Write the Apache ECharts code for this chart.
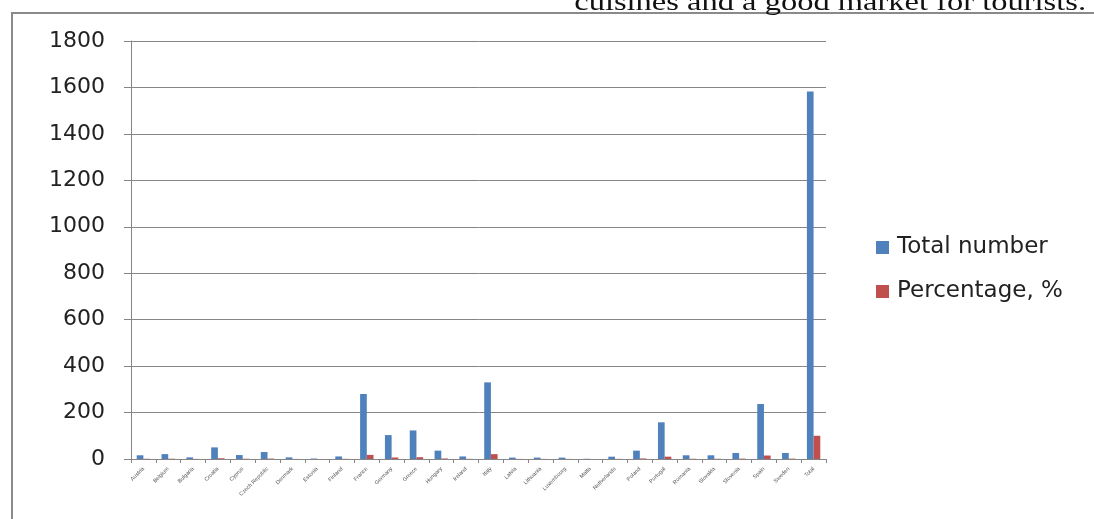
<!DOCTYPE html>
<html>
<head>
<meta charset="utf-8">
<script src="https://cdn.jsdelivr.net/npm/echarts@6/dist/echarts.min.js"></script>
<style>
  html, body { margin: 0; padding: 0; background: #fff; }
  #chart { width: 1094px; height: 519px; }
</style>
</head>
<body>
<div id="chart"></div>
<script>
// Countries of the EU and the overall total
const countries = [
  'Austria', 'Belgium', 'Bulgaria', 'Croatia', 'Cyprus', 'Czech Republic', 'Denmark',
  'Estonia', 'Finland', 'France', 'Germany', 'Greece', 'Hungary', 'Ireland', 'Italy',
  'Latvia', 'Lithuania', 'Luxembourg', 'Malta', 'Netherlands', 'Poland', 'Portugal',
  'Romania', 'Slovakia', 'Slovenia', 'Spain', 'Sweden', 'Total'
];

// Total number per country
const totalNumber = [
  16, 21, 7, 50, 17, 30, 7,
  2, 11, 280, 103, 123, 36, 11, 330,
  6, 6, 6, 1, 10, 36, 158,
  16, 16, 26, 237, 26, 1582
];

// Share of the total, in percent
const percentage = [
  1.0, 1.3, 0.4, 3.2, 1.1, 1.9, 0.4,
  0.1, 0.7, 17.7, 6.5, 7.8, 2.3, 0.7, 20.9,
  0.4, 0.4, 0.4, 0.1, 0.6, 2.3, 10.0,
  1.0, 1.0, 1.6, 15.0, 1.6, 100
];

const yTicks = { min: 0, max: 1800, interval: 200 };

const chart = echarts.init(document.getElementById('chart'), null, { renderer: 'canvas' });

chart.setOption({
  animation: false,
  backgroundColor: '#ffffff',
  graphic: [
    {
      type: 'rect',
      shape: { x: 12, y: 13, width: 1200, height: 600 },
      style: { fill: 'none', stroke: '#8a8a8a', lineWidth: 2 },
      silent: true
    },
    {
      // tail of the paragraph sitting above the chart frame
      type: 'text',
      x: 1086,
      y: 16,
      scaleX: 1.3,
      style: {
        text: 'cuisines and a good market for tourists.',
        font: '25px "Liberation Serif", "DejaVu Serif", serif',
        fill: '#111',
        align: 'right',
        verticalAlign: 'bottom'
      },
      silent: true
    }
  ],
  grid: { left: 131, right: 268, top: 41, bottom: 60, containLabel: false },
  legend: {
    orient: 'vertical',
    left: 876,
    top: 236,
    padding: 0,
    itemWidth: 13,
    itemHeight: 13,
    itemGap: 21,
    icon: 'rect',
    textStyle: {
      fontSize: 23,
      color: '#222',
      fontFamily: '"DejaVu Sans", "Open Sans", sans-serif',
      padding: [0, 0, 0, 3]
    },
    data: ['Total number', 'Percentage, %']
  },
  xAxis: {
    type: 'category',
    data: countries,
    axisLine: { lineStyle: { color: '#868686', width: 1 } },
    axisTick: { show: true, alignWithLabel: false, length: 4, lineStyle: { color: '#868686' } },
    axisLabel: {
      interval: 0,
      rotate: 45,
      fontSize: 5.5,
      color: '#555',
      margin: 9,
      fontFamily: '"Liberation Sans", sans-serif'
    },
    splitLine: { show: false }
  },
  yAxis: {
    type: 'value',
    min: yTicks.min,
    max: yTicks.max,
    interval: yTicks.interval,
    axisLine: { show: true, lineStyle: { color: '#868686', width: 1 } },
    axisTick: { show: true, length: 7, inside: false, lineStyle: { color: '#868686' } },
    axisLabel: {
      fontSize: 22,
      color: '#222',
      margin: 26,
      formatter: (v) => String(v),
      fontFamily: '"DejaVu Sans", sans-serif'
    },
    splitLine: { show: true, lineStyle: { color: '#868686', width: 1 } }
  },
  series: [
    {
      name: 'Total number',
      type: 'bar',
      data: totalNumber,
      barGap: '0%',
      barCategoryGap: '46%',
      itemStyle: { color: '#4F81BD' }
    },
    {
      name: 'Percentage, %',
      type: 'bar',
      data: percentage,
      barGap: '0%',
      barCategoryGap: '46%',
      itemStyle: { color: '#C0504D' }
    }
  ]
});
</script>
</body>
</html>
